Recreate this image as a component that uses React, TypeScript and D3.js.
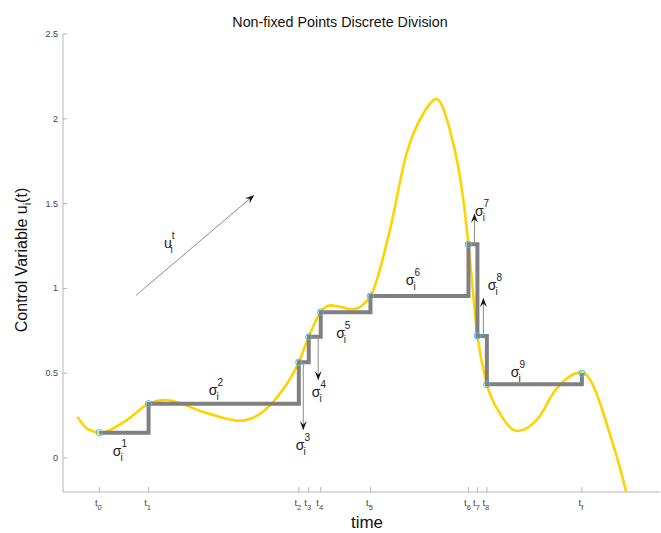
import React from "react";
import * as d3 from "d3";

// switching instants t0..tf and the held control value at each
const tickNames = ["0", "1", "2", "3", "4", "5", "6", "7", "8", "f"];
const tickTimes = [0.73, 1.72, 4.74, 4.94, 5.18, 6.18, 8.15, 8.33, 8.52, 10.43];
const stepValues = [0.15, 0.32, 0.565, 0.715, 0.86, 0.955, 1.26, 0.72, 0.435, 0.5];

// continuous control trajectory (yellow)
const curveTimes = [0.29, 0.5, 0.73, 1.28, 1.72, 2.05, 2.89, 3.56, 4.22, 4.74, 4.94, 5.18, 5.37, 5.83, 6.18, 6.57, 6.91, 7.24, 7.51, 7.78, 8.04, 8.15, 8.33, 8.52, 8.78, 9.12, 9.59, 9.85, 10.43, 11.03, 11.32, 11.5];
const curveValues = [0.243, 0.17, 0.15, 0.224, 0.32, 0.342, 0.265, 0.22, 0.33, 0.566, 0.715, 0.86, 0.9, 0.877, 0.955, 1.344, 1.8, 2.03, 2.117, 1.93, 1.54, 1.26, 0.72, 0.435, 0.265, 0.16, 0.25, 0.38, 0.505, 0.106, -0.2, -0.45];

const yTicks = [0, 0.5, 1, 1.5, 2, 2.5];

// annotation labels: index, time, value (left / baseline)
const sigmaIdx = ["1", "2", "3", "4", "5", "6", "7", "8", "9"];
const sigmaT = [1.0, 2.93, 4.68, 5.0, 5.49, 6.89, 8.28, 8.54, 9.0];
const sigmaV = [0.012, 0.37, 0.047, 0.36, 0.71, 1.02, 1.43, 0.99, 0.48];

// arrows: [t0, v0, t1, v1]
const arrows: [number, number, number, number][] = [
  [1.47, 0.96, 3.84, 1.55],
  [4.83, 0.566, 4.83, 0.165],
  [5.13, 0.715, 5.13, 0.46],
  [8.27, 1.26, 8.27, 1.44],
  [8.45, 0.72, 8.45, 0.943],
];

const W = 661;
const H = 533;
const left = 63, right = 660, top = 34, bottom = 492;
const font = "'Liberation Sans', Arial, Helvetica, sans-serif";

export default function App() {
  const x = d3.scaleLinear().domain([0, 12]).range([left, right]);
  const y = d3.scaleLinear().domain([-0.2, 2.5]).range([bottom, top]);

  const curvePts = curveTimes.map((t, i) => [t, curveValues[i]] as [number, number]);
  const stepPts = tickTimes.map((t, i) => [t, stepValues[i]] as [number, number]);

  const smooth = d3.line<[number, number]>()
    .x(d => x(d[0])).y(d => y(d[1]))
    .curve(d3.curveMonotoneX);
  const stairs = d3.line<[number, number]>()
    .x(d => x(d[0])).y(d => y(d[1]))
    .curve(d3.curveStepAfter);

  const arrowHead = (x0: number, y0: number, x1: number, y1: number) => {
    const a = Math.atan2(y1 - y0, x1 - x0);
    const len = 9, w = 3.5;
    const bx = x1 - len * Math.cos(a), by = y1 - len * Math.sin(a);
    const px = -Math.sin(a) * w, py = Math.cos(a) * w;
    const mx = x1 - len * 0.6 * Math.cos(a), my = y1 - len * 0.6 * Math.sin(a);
    return `M${x1},${y1}L${bx + px},${by + py}L${mx},${my}L${bx - px},${by - py}Z`;
  };

  return (
    <svg width={W} height={H} style={{ position: "absolute", left: 0, top: 0, background: "#fff" }}
      fontFamily={font}>
      <defs>
        <clipPath id="plotClip">
          <rect x={left} y={top} width={right - left} height={bottom - top} />
        </clipPath>
      </defs>

      {/* title */}
      <text x={340} y={27} textAnchor="middle" fontSize={14.3} fill="#111">
        Non-fixed Points Discrete Division
      </text>

      {/* axes */}
      <line x1={left} x2={left} y1={top} y2={bottom} stroke="#b5b5b5" strokeWidth={1} />
      <line x1={left} x2={right} y1={bottom} y2={bottom} stroke="#b5b5b5" strokeWidth={1} />

      {yTicks.map(v => (
        <g key={v}>
          <line x1={left} x2={left + 4} y1={y(v)} y2={y(v)} stroke="#b5b5b5" />
          <text x={left - 5} y={y(v) + 3} textAnchor="end" fontSize={9} fill="#444">{v}</text>
        </g>
      ))}

      {tickTimes.map((t, i) => (
        <g key={tickNames[i]}>
          <line x1={x(t)} x2={x(t)} y1={bottom} y2={bottom - 5} stroke="#b5b5b5" />
          <text x={x(t) - 1} y={bottom + 14} textAnchor="middle" fontSize={9.5} fill="#444">
            t<tspan fontSize={7.5} dy={4}>{tickNames[i]}</tspan>
          </text>
        </g>
      ))}

      {/* axis labels */}
      <text x={367} y={528} textAnchor="middle" fontSize={17} fill="#111">time</text>
      <text transform="translate(27,260) rotate(-90)" textAnchor="middle" fontSize={16} fill="#111">
        Control Variable u<tspan fontSize={11} dy={4}>i</tspan><tspan dy={-4}>(t)</tspan>
      </text>

      {/* continuous control */}
      <path d={smooth(curvePts) ?? ""} fill="none" stroke="#FFD300" strokeWidth={2.6}
        clipPath="url(#plotClip)" />

      {/* piecewise constant control */}
      <path d={stairs(stepPts) ?? ""} fill="none" stroke="#808080" strokeWidth={4} />

      {stepPts.map((p, i) => (
        <circle key={i} cx={x(p[0])} cy={y(p[1])} r={3.2} fill="none" stroke="#4DBEEE" strokeWidth={1} />
      ))}

      {/* arrows */}
      {arrows.map((a, i) => {
        const x0 = x(a[0]), y0 = y(a[1]), x1 = x(a[2]), y1 = y(a[3]);
        return (
          <g key={i}>
            <line x1={x0} y1={y0} x2={x1} y2={y1} stroke="#8a8a8a" strokeWidth={1} />
            <path d={arrowHead(x0, y0, x1, y1)} fill="#111" />
          </g>
        );
      })}

      {/* sigma labels */}
      {sigmaIdx.map((s, i) => (
        <text key={s} x={x(sigmaT[i])} y={y(sigmaV[i])} fontSize={14} fill="#222">
          σ<tspan fontSize={10} dy={-9} dx={0}>{s}</tspan>
          <tspan fontSize={10} dx={-6.5} dy={14}>i</tspan>
        </text>
      ))}

      <text x={x(2.03)} y={y(1.24)} fontSize={14} fill="#222">
        u<tspan fontSize={10} dy={-9}>t</tspan>
        <tspan fontSize={10} dx={-4} dy={14}>i</tspan>
      </text>
    </svg>
  );
}
